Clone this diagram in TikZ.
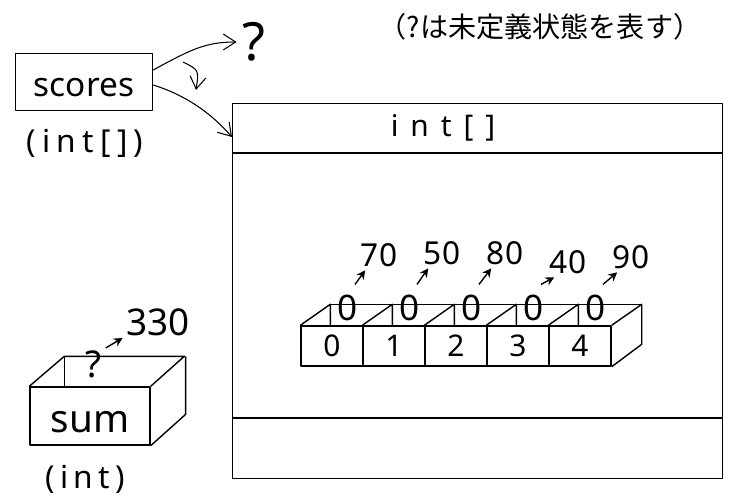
\documentclass[tikz,border=0pt]{standalone}
\usepackage{fontspec}
\setmainfont{Noto Sans}
\newfontfamily\jpfont{Noto Sans CJK JP}
\usetikzlibrary{arrows.meta,calc,positioning}

\begin{document}
\begin{tikzpicture}[x=0.02cm,y=-0.02cm,thick,line join=round,
    txt/.style={inner sep=0pt,font=\fontsize{#1}{#1}\selectfont},
    tip/.style={-{Straight Barb[length=7pt,width=9pt]},semithick},
    up/.style={-{Stealth[length=5pt,width=5pt]},thick}]
  \useasboundingbox (0,0) rectangle (750,500);
  \node[txt=16] (note) at (540,27) {\jpfont （?は未定義状態を表す）};

  % variable scores and the ? it first holds
  \node[draw,txt=19,text height=16pt,text depth=0pt,minimum width=2.74cm,minimum height=1.14cm] (scores) at (84,82) {scores};
  \node[txt=18] (scorestype) at (85,143) {\addfontfeature{LetterSpace=20}(int[])};
  \node[txt=30] (undef) at (254,42) {?};

  % the array object
  \node[draw,minimum width=9.8cm,minimum height=7.5cm,anchor=north west] (heap) at (232,103) {};
  \draw (heap.west |- 0,153) -- (heap.east |- 0,153);
  \draw (heap.west |- 0,418) -- (heap.east |- 0,418);
  \node[txt=17] (heaptype) at (443,128) {\addfontfeature{LetterSpace=40}int[]};

  \draw[tip,shorten >=3pt] ([shift={(0,-12)}]scores.east) .. controls (190,50) and (205,42) .. (undef.west);
  \coordinate (turn) at (183,62);
  \coordinate (turnend) at (196,90);
  \draw[tip] (turn) .. controls (199,70) .. (turnend);
  \draw[tip] ([shift={(0,3)}]scores.east) .. controls (185,95) and (210,112) .. ([shift={(0,34)}]heap.north west);

  % five slots, 0 before and the stored value after
  \foreach \i in {0,...,4}
    \node[draw,txt=17,minimum width=1.24cm,minimum height=0.8cm] (cell\i) at ({332+62*\i},346) {\i};
  \foreach \i in {0,...,4}
    \draw (cell\i.north west) -- ++(30,-21) -- ++(0,21);
  \draw ([shift={(30,-21)}]cell0.north west) -- ([shift={(30,-21)}]cell4.north east);
  \draw (cell4.north east) -- ++(30,-21) -- ++(0,40) -- (cell4.south east);
  \foreach \i/\v/\dy in {0/70/255,1/50/253,2/80/253,3/40/262,4/90/257} {
    \node[txt=20] (old\i) at ({348+62*\i},308) {0};
    \node[txt=18] (new\i) at ({379+63*\i},\dy) {\v};
    \draw[up] ([shift={(7,-10)}]old\i.north) -- ([shift={(5,3)}]new\i.south west);
  }

  % variable sum
  \node[draw,txt=22,text height=19pt,text depth=0pt,minimum width=2.4cm,minimum height=1.16cm] (sum) at (90,416) {sum};
  \draw (sum.north west) -- ++(35,-30) -- ++(120,0) -- (sum.north east);
  \draw ([shift={(35,-30)}]sum.north west) -- ++(0,30);
  \draw (sum.north east) ++(35,-30) -- ++(0,58) -- (sum.south east);
  \node[txt=18] (sumtype) at (85,479) {\addfontfeature{LetterSpace=17}(int)};
  \node[txt=21] (sumold) at (94,364) {?};
  \node[txt=21] (sumnew) at (158,322) {330};
  \draw[up,shorten <=2pt,shorten >=2pt] (sumold.north east) -- (sumnew.south west);
\end{tikzpicture}
\end{document}
